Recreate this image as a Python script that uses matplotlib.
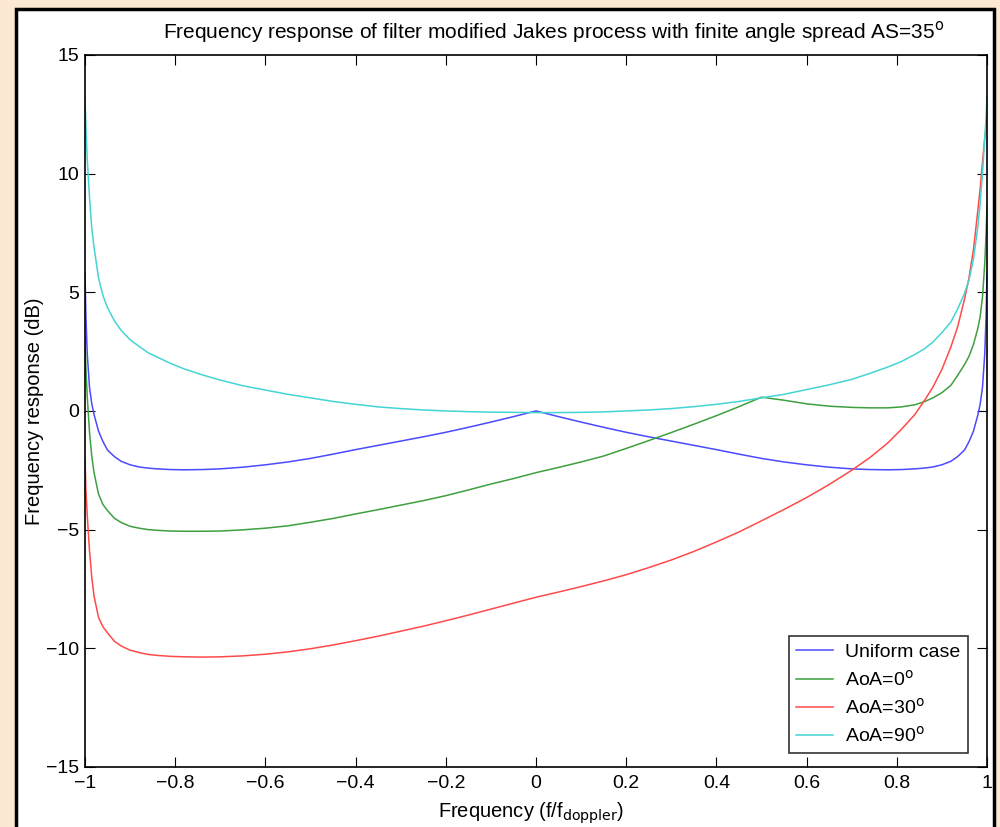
import matplotlib
matplotlib.use('Agg')
import matplotlib.pyplot as plt
from matplotlib.patches import Rectangle

plt.rcParams['font.family'] = ['Liberation Sans', 'DejaVu Sans']

# values (dB)
freq = [-1.0, -0.998, -0.995, -0.99, -0.985, -0.98, -0.97, -0.96,
        -0.95, -0.935, -0.92, -0.9, -0.88, -0.86, -0.84, -0.81,
        -0.78, -0.74, -0.7, -0.65, -0.6, -0.55, -0.5, -0.45,
        -0.4, -0.35, -0.3, -0.25, -0.2, -0.15, -0.1, -0.05,
        0.0,
        0.05, 0.1, 0.15, 0.2, 0.25, 0.3, 0.35, 0.4,
        0.45, 0.5, 0.55, 0.6, 0.65, 0.7, 0.74, 0.78,
        0.81, 0.84, 0.86, 0.88, 0.9, 0.92, 0.935, 0.95,
        0.96, 0.97, 0.98, 0.985, 0.99, 0.995, 0.998, 1.0]

uniform = [5.8, 4.0, 2.4, 1.0, 0.3, -0.15, -0.85, -1.3,
           -1.65, -1.92, -2.12, -2.27, -2.36, -2.41, -2.44, -2.47,
           -2.48, -2.47, -2.44, -2.37, -2.27, -2.15, -2.0, -1.82,
           -1.63, -1.45, -1.27, -1.09, -0.9, -0.69, -0.47, -0.24,
           0.0,
           -0.24, -0.47, -0.69, -0.9, -1.09, -1.27, -1.45, -1.63,
           -1.82, -2.0, -2.15, -2.27, -2.37, -2.44, -2.47, -2.48,
           -2.47, -2.44, -2.41, -2.36, -2.27, -2.12, -1.92, -1.65,
           -1.3, -0.85, -0.15, 0.3, 1.0, 2.4, 4.0, 5.8]

aoa0 = [3.1, 1.8, 0.6, -0.9, -1.9, -2.6, -3.5, -3.95,
        -4.2, -4.52, -4.7, -4.86, -4.94, -5.0, -5.03, -5.06,
        -5.07, -5.07, -5.06, -5.01, -4.94, -4.84, -4.69, -4.53,
        -4.34, -4.16, -3.97, -3.78, -3.57, -3.33, -3.08, -2.85,
        -2.6,
        -2.38, -2.15, -1.9, -1.58, -1.25, -0.91, -0.56, -0.2,
        0.18, 0.58, 0.45, 0.3, 0.2, 0.15, 0.13, 0.13,
        0.17, 0.26, 0.38, 0.55, 0.77, 1.08, 1.5, 1.95,
        2.3, 2.8, 3.5, 4.0, 4.8, 6.2, 7.5, 8.6]

aoa30 = [-2.0, -3.3, -4.4, -5.9, -7.0, -7.8, -8.7, -9.1,
         -9.35, -9.7, -9.9, -10.08, -10.18, -10.26, -10.3, -10.34,
         -10.36, -10.37, -10.36, -10.32, -10.25, -10.15, -10.02, -9.86,
         -9.68, -9.49, -9.28, -9.07, -8.84, -8.6, -8.35, -8.1,
         -7.85,
         -7.63, -7.4, -7.16, -6.9, -6.6, -6.28, -5.92, -5.52,
         -5.1, -4.63, -4.15, -3.65, -3.1, -2.5, -1.97, -1.35,
         -0.78, -0.15, 0.4, 1.0, 1.75, 2.7, 3.55, 4.7,
         5.6, 6.8, 8.5, 9.4, 10.5, 11.5, 12.0, 12.3]

aoa90 = [13.2, 12.0, 10.6, 9.0, 7.7, 6.9, 5.6, 4.85,
         4.35, 3.8, 3.4, 3.0, 2.72, 2.45, 2.27, 2.0,
         1.77, 1.52, 1.3, 1.06, 0.88, 0.7, 0.55, 0.4,
         0.28, 0.17, 0.1, 0.04, 0.0, -0.03, -0.05, -0.06,
         -0.07,
         -0.07, -0.06, -0.04, 0.0, 0.04, 0.1, 0.18, 0.28,
         0.4, 0.55, 0.7, 0.9, 1.1, 1.33, 1.58, 1.85,
         2.08, 2.38, 2.6, 2.9, 3.3, 3.75, 4.3, 4.95,
         5.5, 6.4, 7.8, 8.8, 10.0, 11.5, 12.4, 13.2]

labels = ['Uniform case', 'AoA=0$^{\\rm o}$', 'AoA=30$^{\\rm o}$', 'AoA=90$^{\\rm o}$']
colors = ['#4a4aff', '#3f9f3f', '#ff4a4a', '#45d4d4']

fig = plt.figure(figsize=(10, 8.27), dpi=100)
fig.patch.set_facecolor('#fde8d3')
frame = Rectangle((0.016, -0.02), 0.978, 1.009, transform=fig.transFigure,
                  facecolor='white', edgecolor='black', linewidth=2.5, zorder=-5)
fig.add_artist(frame)

ax = fig.add_axes([0.085, 0.0726, 0.902, 0.861])
ax.set_zorder(1)
for y, lab, c in zip([uniform, aoa0, aoa30, aoa90], labels, colors):
    ax.plot(freq, y, color=c, linewidth=1.1, label=lab)

ax.set_xlim(-1, 1)
ax.set_ylim(-15, 15)
ax.set_xticks([-1, -0.8, -0.6, -0.4, -0.2, 0, 0.2, 0.4, 0.6, 0.8, 1])
ax.set_xticklabels(['\u22121', '\u22120.8', '\u22120.6', '\u22120.4', '\u22120.2', '0',
                    '0.2', '0.4', '0.6', '0.8', '1'])
ax.set_yticks([-15, -10, -5, 0, 5, 10, 15])
ax.set_yticklabels(['\u221215', '\u221210', '\u22125', '0', '5', '10', '15'])
ax.tick_params(direction='in', top=True, right=True, length=7, labelsize=14)
ax.tick_params(axis='x', pad=6)
ax.tick_params(axis='y', pad=4)
for s in ax.spines.values():
    s.set_linewidth(1.2)

ax.set_title('Frequency response of filter modified Jakes process with finite angle spread AS=35$^{\\rm o}$',
             fontsize=15, pad=12, x=0.52)
ax.set_xlabel('Frequency (f/f$_{\\rm doppler}$)', fontsize=14.5, labelpad=6, x=0.494)
ax.set_ylabel('Frequency response (dB)', fontsize=14.5, labelpad=2)

leg = ax.legend(loc='lower right', bbox_to_anchor=(0.979, 0.019), fontsize=14,
                frameon=True, fancybox=False, handlelength=1.9, handletextpad=0.6,
                borderpad=0.4, labelspacing=0.42, borderaxespad=0)
leg.get_frame().set_edgecolor('black')
leg.get_frame().set_linewidth(1.2)

plt.savefig('out.png', facecolor=fig.get_facecolor())
